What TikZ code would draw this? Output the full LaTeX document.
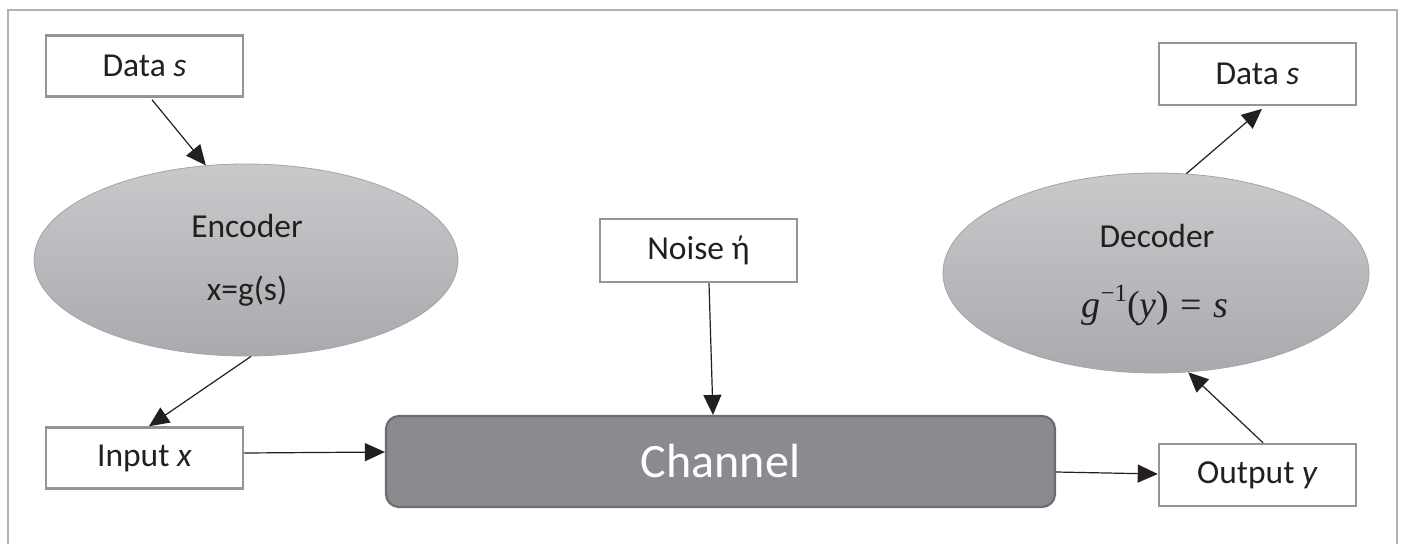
\RequirePackage{fix-cm}
\documentclass[tikz,border=0pt]{standalone}
\usepackage{fontspec}
\setmainfont{Carlito}
\newfontfamily\formulafont{Liberation Serif}
\usetikzlibrary{shapes.geometric,arrows.meta}

\definecolor{framegray}{HTML}{B1B2B4}
\definecolor{boxgray}{HTML}{939598}
\definecolor{inkblack}{HTML}{231F20}
\definecolor{ovaltop}{HTML}{C8C9CB}
\definecolor{ovalbottom}{HTML}{A9AAAD}
\definecolor{ovalline}{HTML}{A3A4A7}
\definecolor{chanfill}{HTML}{8A8B8E}
\definecolor{chanline}{HTML}{6C6D70}

\tikzset{
  labelbox/.style={draw=boxgray, line width=2.5pt, fill=white,
    minimum width=197pt, minimum height=61pt, inner sep=0pt,
    text=inkblack, font=\fontsize{33.5}{40}\selectfont},
  oval/.style={ellipse, draw=ovalline, line width=0.8pt,
    top color=ovaltop, bottom color=ovalbottom, inner sep=0pt},
  ovaltext/.style={text=inkblack, inner sep=0pt, font=\fontsize{33.5}{40}\selectfont},
  channelbox/.style={draw=chanline, line width=2.2pt, fill=chanfill,
    rounded corners=13pt, minimum width=669pt, minimum height=91pt,
    inner sep=0pt, text=white, font=\fontsize{48}{56}\selectfont},
  conn/.style={draw=inkblack, line width=1.2pt,
    -{Triangle[length=20pt,width=18pt]}},
}

\begin{document}
\begin{tikzpicture}[x=1pt,y=-1pt]
  \useasboundingbox (0,0) rectangle (1403,544);
  \fill[white] (0,0) rectangle (1403,544);

  % outer frame (its lower edge lies below the page)
  \draw[framegray, line width=1.6pt] (8,544) -- (8,10) -- (1397,10) -- (1397,544);

  % encoder side
  \node[labelbox] (srcdata) at (144.5,66) {Data \textit{s}};
  \node[oval, minimum width=424pt, minimum height=192pt] (enc) at (246,260) {};
  \node[ovaltext] (enctitle) at (247,226) {Encoder};
  \node[ovaltext] (encformula) at (247,291) {x=g(s)};
  \node[labelbox] (inbox) at (144.5,458) {Input \textit{x}};

  % channel and noise
  \node[labelbox, minimum height=63pt] (noise) at (698.5,250.5) {Noise ή};
  \node[channelbox] (chan) at (720.5,461.5) {Channel};

  % decoder side
  \node[labelbox, minimum height=62pt] (outbox) at (1257.5,475) {Output \textit{y}};
  \node[oval, minimum width=426pt, minimum height=200pt] (dec) at (1156,273) {};
  \node[ovaltext] (dectitle) at (1157,236) {Decoder};
  \node[ovaltext, font=\formulafont\fontsize{38}{44}\selectfont] (decformula) at (1155,305)
    {\textit{g}\raisebox{0.42em}{\fontsize{25}{30}\selectfont −1}(\textit{y})\hspace{0.3em}=\hspace{0.3em}\textit{s}};
  \node[labelbox, minimum height=62pt] (dstdata) at (1257.5,74) {Data \textit{s}};

  % connectors
  \draw[conn] ([xshift=7.5pt,yshift=-2pt]srcdata.south) -- (enc.113);
  \draw[conn] (enc.-87) -- ([xshift=4.5pt]inbox.north);
  \draw[conn] ([yshift=5pt]inbox.east) -- ([yshift=9.5pt]chan.west);
  \draw[conn] ([xshift=10.5pt]noise.south) -- ([xshift=-7.5pt]chan.north);
  \draw[conn] ([yshift=-10.5pt]chan.east) -- ([yshift=1pt]outbox.west);
  \draw[conn] ([xshift=5.5pt]outbox.north) -- (dec.-72);
  \draw[conn, shorten >=4pt] (dec.73) -- ([xshift=7.5pt]dstdata.south);
\end{tikzpicture}
\end{document}
